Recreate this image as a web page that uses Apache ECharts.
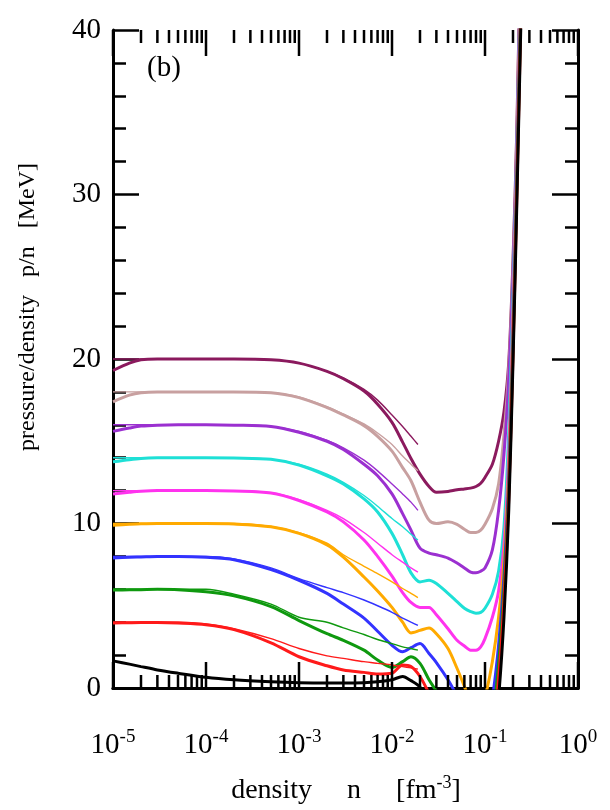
<!DOCTYPE html>
<html>
<head>
<meta charset="utf-8">
<script src="https://cdn.jsdelivr.net/npm/echarts@6/dist/echarts.min.js"></script>
<style>
  html, body { margin: 0; padding: 0; background: #fff; }
  #chart { width: 610px; height: 810px; }
</style>
</head>
<body>
<div id="chart"></div>
<script>
// Baryon density grid [fm^-3] for the full EoS curves
const density = [1e-5, 1.5e-5, 2e-5, 3e-5, 5e-5, 1e-4, 2e-4, 5e-4, 1e-3, 2e-3, 3e-3, 5e-3, 7e-3,
  0.01, 0.013, 0.016, 0.02, 0.025, 0.03, 0.04, 0.05, 0.06, 0.07, 0.08, 0.09, 0.1,
  0.12, 0.14, 0.16, 0.18, 0.2, 0.22, 0.25];

// p/n [MeV] along the density grid, one array per temperature
const pnT20 = [19.3, 19.75, 19.95, 20.0, 20.0, 20.0, 20.0, 19.95, 19.75, 19.25, 18.8, 18.05, 17.25,
  16.15, 14.95, 13.95, 13.0, 12.25, 11.9, 11.95, 12.05, 12.1, 12.15, 12.25, 12.45, 12.8,
  13.6, 15.0, 16.8, 19.8, 26, 34, 50];
const pnT18 = [17.4, 17.8, 17.95, 18.0, 18.0, 18.0, 18.0, 17.95, 17.65, 17.05, 16.6, 15.95, 15.3,
  14.4, 13.4, 12.6, 11.3, 10.2, 10.0, 10.1, 9.95, 9.65, 9.45, 9.45, 9.6, 9.95,
  10.9, 12.4, 15.4, 19.4, 25.5, 33.5, 49];
const pnT16 = [15.6, 15.8, 15.92, 15.98, 16.0, 16.0, 15.98, 15.9, 15.55, 15.0, 14.5, 13.6, 12.9,
  11.8, 10.6, 9.6, 8.5, 8.2, 8.1, 7.9, 7.6, 7.3, 7.05, 7.0, 7.1, 7.3,
  8.4, 10.8, 14.2, 18.8, 25, 33, 48];
const pnT14 = [13.75, 13.88, 13.95, 13.99, 14.0, 14.0, 13.98, 13.9, 13.55, 12.9, 12.4, 11.5, 10.7,
  9.4, 8.1, 7.0, 6.45, 6.55, 6.35, 5.75, 5.25, 4.85, 4.65, 4.55, 4.6, 4.85,
  5.7, 7.1, 9.8, 15.6, 23.8, 32.5, 47.5];
const pnT12 = [11.8, 11.9, 11.96, 12.0, 12.0, 12.0, 11.97, 11.85, 11.4, 10.7, 10.1, 9.0, 8.0,
  6.8, 5.8, 5.2, 4.9, 4.9, 4.45, 3.6, 2.9, 2.55, 2.3, 2.3, 2.5, 3.0,
  4.3, 5.9, 8.7, 14.2, 22.8, 32, 47];
const pnT10 = [9.9, 9.95, 9.98, 10.0, 10.0, 10.0, 9.97, 9.8, 9.4, 8.7, 7.95, 6.75, 5.9,
  4.9, 4.0, 3.35, 3.5, 3.65, 3.3, 2.4, 1.2, 0.1, -0.9, -1.4, -1.3, -0.6,
  1.6, 4.3, 7.8, 13.3, 22, 31.5, 46];
const pnT8 = [7.9, 7.95, 7.97, 8.0, 8.0, 7.95, 7.8, 7.2, 6.55, 5.75, 5.1, 4.25, 3.45,
  2.6, 2.2, 2.45, 2.7, 2.1, 1.55, 0.5, -0.5, -1.5, -2.3, -2.7, -2.8, -2.5,
  -0.6, 2.6, 6.8, 12.6, 21.3, 31, 45];
const pnT6 = [5.95, 5.97, 5.98, 6.0, 5.98, 5.85, 5.6, 4.95, 4.1, 3.3, 2.9, 2.3, 1.7,
  1.25, 1.6, 1.9, 1.5, 0.5, -0.2, -1.5, -2.5, -3.3, -3.8, -4.0, -4.0, -3.6,
  -2.0, 1.5, 6.0, 12.0, 20.8, 30.5, 44.5];
const pnT4 = [3.95, 3.97, 3.98, 3.98, 3.95, 3.85, 3.55, 2.75, 1.9, 1.35, 1.1, 0.95, 0.85,
  0.9, 1.4, 1.3, 0.7, -0.3, -1.0, -2.5, -3.5, -4.3, -4.8, -5.0, -5.0, -4.6,
  -3.0, 0.6, 5.3, 11.5, 20.3, 30, 44];
const pnLow = [1.65, 1.45, 1.3, 1.1, 0.9, 0.65, 0.5, 0.38, 0.32, 0.3, 0.3, 0.32, 0.38,
  0.5, 0.7, 0.45, 0.05, -1.0, -2.0, -3.5, -4.5, -5.3, -5.8, -6.0, -6.1, -6.0,
  -4.3, -0.6, 4.3, 10.8, 19.8, 29.5, 43.5];

// Low-density approximation, valid up to ~0.02 fm^-3
const densityLow = [1e-5, 2e-5, 5e-5, 1e-4, 2e-4, 5e-4, 1e-3, 2e-3, 3e-3, 5e-3, 7e-3, 0.01, 0.013, 0.016, 0.019];
const apxT20 = [20, 20, 20, 20, 20, 19.95, 19.75, 19.25, 18.85, 18.15, 17.5, 16.6, 15.9, 15.3, 14.8];
const apxT18 = [18, 18, 18, 18, 18, 17.95, 17.7, 17.1, 16.65, 16.05, 15.5, 14.8, 14.1, 13.6, 13.2];
const apxT16 = [16, 16, 16, 16, 16, 15.9, 15.6, 15.05, 14.6, 13.85, 13.2, 12.4, 11.8, 11.3, 10.8];
const apxT14 = [14, 14, 14, 14, 14, 13.9, 13.6, 13.0, 12.5, 11.7, 11.05, 10.3, 9.8, 9.35, 9.0];
const apxT12 = [12, 12, 12, 12, 12, 11.87, 11.45, 10.8, 10.3, 9.45, 8.8, 8.1, 7.65, 7.3, 7.05];
const apxT10 = [10, 10, 10, 10, 10, 9.82, 9.45, 8.8, 8.1, 7.4, 6.95, 6.45, 6.05, 5.75, 5.5];
const apxT8 = [8, 8, 8, 8, 7.85, 7.3, 6.65, 6.1, 5.8, 5.35, 5.0, 4.6, 4.25, 4.0, 3.8];
const apxT6 = [6, 6, 6, 6, 5.7, 5.1, 4.3, 4.0, 3.65, 3.25, 2.95, 2.7, 2.5, 2.4, 2.3];
const apxT4 = [4, 4, 4, 3.9, 3.6, 3.0, 2.4, 1.95, 1.8, 1.6, 1.5, 1.4, 1.3, 1.22, 1.15];

const curveColors = ['#8b1a5e', '#c8a0a0', '#9b30d0', '#1ee0d6', '#ff33ee', '#ffaa00', '#3333ff', '#0f990f', '#ff1a1a', '#000000'];
const fullCurves = [pnT20, pnT18, pnT16, pnT14, pnT12, pnT10, pnT8, pnT6, pnT4, pnLow];
const approxCurves = [apxT20, apxT18, apxT16, apxT14, apxT12, apxT10, apxT8, apxT6, apxT4];

const FONT = 'Liberation Serif';

// decade ticks and 2..9 x 10^k ticks for the log density axis
const decadeTicks = [];
const subDecadeTicks = [];
for (let e = -5; e <= 0; e++) {
  decadeTicks.push([Math.pow(10, e), 0]);
  if (e < 0) {
    for (let k = 2; k <= 9; k++) subDecadeTicks.push([k * Math.pow(10, e), 0]);
  }
}

function densityTickSeries(ticks, len) {
  return {
    type: 'custom', silent: true, clip: false, z: 5,
    data: ticks,
    renderItem: function (params, api) {
      const n = api.value(0);
      const pb = api.coord([n, 0]);
      const pt = api.coord([n, 40]);
      const st = { stroke: '#000', lineWidth: 2.5 };
      return {
        type: 'group',
        children: [
          { type: 'line', shape: { x1: pb[0], y1: pb[1], x2: pb[0], y2: pb[1] - len }, style: st },
          { type: 'line', shape: { x1: pt[0], y1: pt[1], x2: pt[0], y2: pt[1] + len }, style: st }
        ]
      };
    }
  };
}

const series = [];
approxCurves.forEach((arr, i) => {
  series.push({
    type: 'line', silent: true, showSymbol: false, smooth: 0.3, clip: true, z: 3,
    data: densityLow.map((n, j) => [n, arr[j]]),
    lineStyle: { color: curveColors[i], width: 1.4 }
  });
});
fullCurves.forEach((arr, i) => {
  series.push({
    type: 'line', silent: true, showSymbol: false, smooth: 0.3, clip: true, z: 2,
    data: density.map((n, j) => [n, arr[j]]),
    lineStyle: { color: curveColors[i], width: 3 }
  });
});
series.push(densityTickSeries(decadeTicks, 26));
series.push(densityTickSeries(subDecadeTicks, 13));

const axisLineStyle = { show: true, lineStyle: { color: '#000', width: 3 } };
const majorTick = { show: true, inside: true, length: 26, lineStyle: { color: '#000', width: 2.5 } };
const minorTick = { show: true, splitNumber: 5, length: 13, lineStyle: { color: '#000', width: 2.5 } };

const chart = echarts.init(document.getElementById('chart'), null, { renderer: 'canvas' });
chart.setOption({
  animation: false,
  backgroundColor: '#fff',
  grid: { left: 113, right: 32, top: 30, bottom: 122, containLabel: false },
  xAxis: [
    {
      type: 'log', logBase: 10, min: 1e-5, max: 1, position: 'bottom',
      axisLine: axisLineStyle, axisTick: { show: false }, splitLine: { show: false },
      axisLabel: {
        margin: 40, color: '#000',
        formatter: function (v) {
          const e = Math.round(Math.log10(v));
          return '{b|10}{s|' + e + '}';
        },
        rich: {
          b: { fontFamily: FONT, fontSize: 29, color: '#000' },
          s: { fontFamily: FONT, fontSize: 19, color: '#000', padding: [0, 0, 16, 0] }
        }
      }
    },
    {
      type: 'log', logBase: 10, min: 1e-5, max: 1, position: 'top',
      axisLine: axisLineStyle, axisTick: { show: false }, axisLabel: { show: false }, splitLine: { show: false }
    }
  ],
  yAxis: [
    {
      type: 'value', min: 0, max: 40, interval: 10, position: 'left',
      axisLine: axisLineStyle, axisTick: majorTick, minorTick: minorTick,
      splitLine: { show: false }, minorSplitLine: { show: false },
      axisLabel: { margin: 12, color: '#000', fontFamily: FONT, fontSize: 29 }
    },
    {
      type: 'value', min: 0, max: 40, interval: 10, position: 'right',
      axisLine: axisLineStyle, axisTick: majorTick, minorTick: minorTick,
      splitLine: { show: false }, minorSplitLine: { show: false }, axisLabel: { show: false }
    }
  ],
  graphic: [
    {
      type: 'text', left: 147, top: 54, z: 10,
      style: { text: '(b)', fill: '#000', font: '29px "Liberation Serif"' }
    },
    {
      type: 'text', x: 28, y: 307, rotation: Math.PI / 2, z: 10,
      style: {
        text: 'pressure/density   p/n   [MeV]', fill: '#000',
        font: '24px "Liberation Serif"', align: 'center', verticalAlign: 'middle'
      }
    },
    {
      type: 'text', x: 346, y: 791, z: 10,
      style: {
        text: '{t|density     n     [fm}{s|-3}{t|]}', align: 'center', verticalAlign: 'middle',
        rich: {
          t: { fontFamily: FONT, fontSize: 28, fill: '#000' },
          s: { fontFamily: FONT, fontSize: 18, fill: '#000', padding: [0, 0, 16, 0] }
        }
      }
    }
  ],
  series: series
});
</script>
</body>
</html>
